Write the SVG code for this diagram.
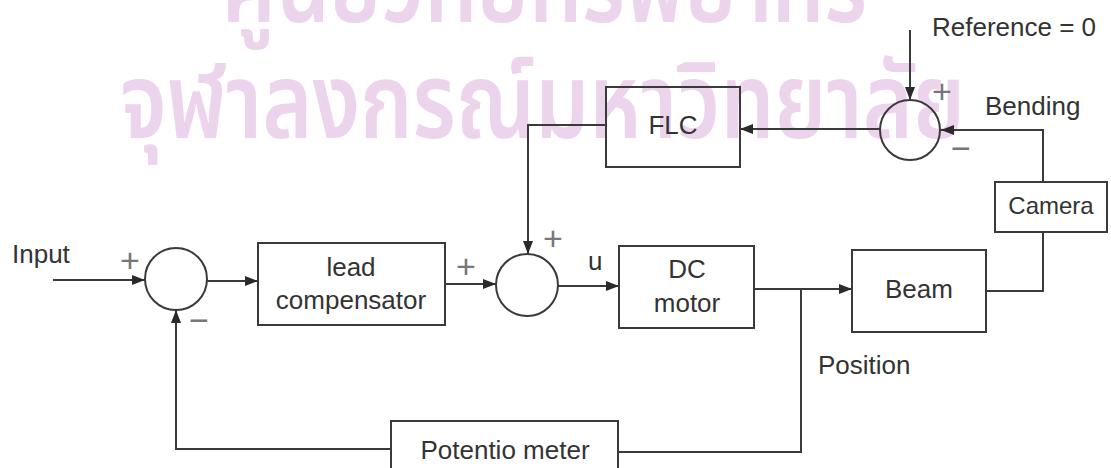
<svg xmlns="http://www.w3.org/2000/svg" width="1111" height="468" viewBox="0 0 1111 468">
<defs>
<marker id="ah" markerUnits="userSpaceOnUse" markerWidth="14" markerHeight="12" refX="13" refY="5" orient="auto">
<path d="M0,0 L13,5 L0,10 Z" fill="#2a2a2a"/>
</marker>
<style>
.box{fill:none;stroke:#3a3a3a;stroke-width:2}
.sum{fill:none;stroke:#3a3a3a;stroke-width:2}
.ln{fill:none;stroke:#3a3a3a;stroke-width:2}
.t{font-family:"Liberation Sans",Arial,sans-serif;font-size:26px;fill:#333}
.c{text-anchor:middle}
.sg{font-family:"Liberation Sans",Arial,sans-serif;font-size:34px;fill:#777;text-anchor:middle}
.wm{font-family:"Noto Sans Thai","Loma","Garuda","Noto Sans",sans-serif;font-size:106px;font-weight:600;fill:#ecd4ec}
</style>
</defs>
<rect width="1111" height="468" fill="#fff"/>
<g id="watermark">
<text class="wm" x="222" y="22" textLength="645" lengthAdjust="spacingAndGlyphs">ศูนย์วิทยทรัพยากร</text>
<text class="wm" x="120" y="138" textLength="845" lengthAdjust="spacingAndGlyphs">จุฬาลงกรณ์มหาวิทยาลัย</text>
</g>
<g id="connectors">
<line class="ln" x1="53" y1="280" x2="145" y2="280" marker-end="url(#ah)"/>
<line class="ln" x1="207" y1="281" x2="258" y2="281" marker-end="url(#ah)"/>
<line class="ln" x1="445" y1="284" x2="496" y2="284" marker-end="url(#ah)"/>
<line class="ln" x1="558" y1="286" x2="619" y2="286" marker-end="url(#ah)"/>
<line class="ln" x1="754" y1="289" x2="852" y2="289" marker-end="url(#ah)"/>
<polyline class="ln" points="986,291 1043,291 1043,232"/>
<polyline class="ln" points="1043,182 1043,130 941,130" marker-end="url(#ah)"/>
<line class="ln" x1="910" y1="30" x2="910" y2="100" marker-end="url(#ah)"/>
<line class="ln" x1="880" y1="129" x2="740" y2="129" marker-end="url(#ah)"/>
<polyline class="ln" points="606,125 528,125 528,254" marker-end="url(#ah)"/>
<polyline class="ln" points="801,289 801,452 618,452"/>
<polyline class="ln" points="391,449 176,449 176,310" marker-end="url(#ah)"/>
</g>
<g id="sum1">
<circle class="sum" cx="176" cy="279" r="31"/>
<text class="sg" x="130" y="272">+</text>
<text class="sg" x="199" y="332">−</text>
</g>
<g id="lead">
<rect class="box" x="258" y="243" width="187" height="82"/>
<text class="t c" x="351" y="276">lead</text>
<text class="t c" x="351" y="309">compensator</text>
</g>
<g id="sum2">
<circle class="sum" cx="527" cy="285" r="31"/>
<text class="sg" x="466" y="278">+</text>
<text class="sg" x="553" y="250">+</text>
</g>
<g id="dcmotor">
<rect class="box" x="619" y="246" width="135" height="82"/>
<text class="t c" x="687" y="278">DC</text>
<text class="t c" x="687" y="312">motor</text>
</g>
<g id="beam">
<rect class="box" x="852" y="250" width="134" height="82"/>
<text class="t c" x="919" y="298">Beam</text>
</g>
<g id="camera">
<rect class="box" x="995" y="182" width="112" height="50"/>
<text class="t c" x="1051" y="214" style="font-size:24px">Camera</text>
</g>
<g id="sum3">
<circle class="sum" cx="910" cy="130" r="30"/>
<text class="sg" x="942" y="103">+</text>
<text class="sg" x="961" y="160">−</text>
</g>
<g id="flc">
<rect class="box" x="606" y="87" width="134" height="80"/>
<text class="t c" x="673" y="134">FLC</text>
</g>
<g id="potentiometer">
<rect class="box" x="391" y="421" width="227" height="60"/>
<text class="t c" x="505" y="459">Potentio meter</text>
</g>
<g id="labels">
<text class="t" x="12" y="263">Input</text>
<text class="t" x="588" y="270">u</text>
<text class="t" x="932" y="36">Reference = 0</text>
<text class="t" x="985" y="115">Bending</text>
<text class="t" x="818" y="374">Position</text>
</g>
</svg>
